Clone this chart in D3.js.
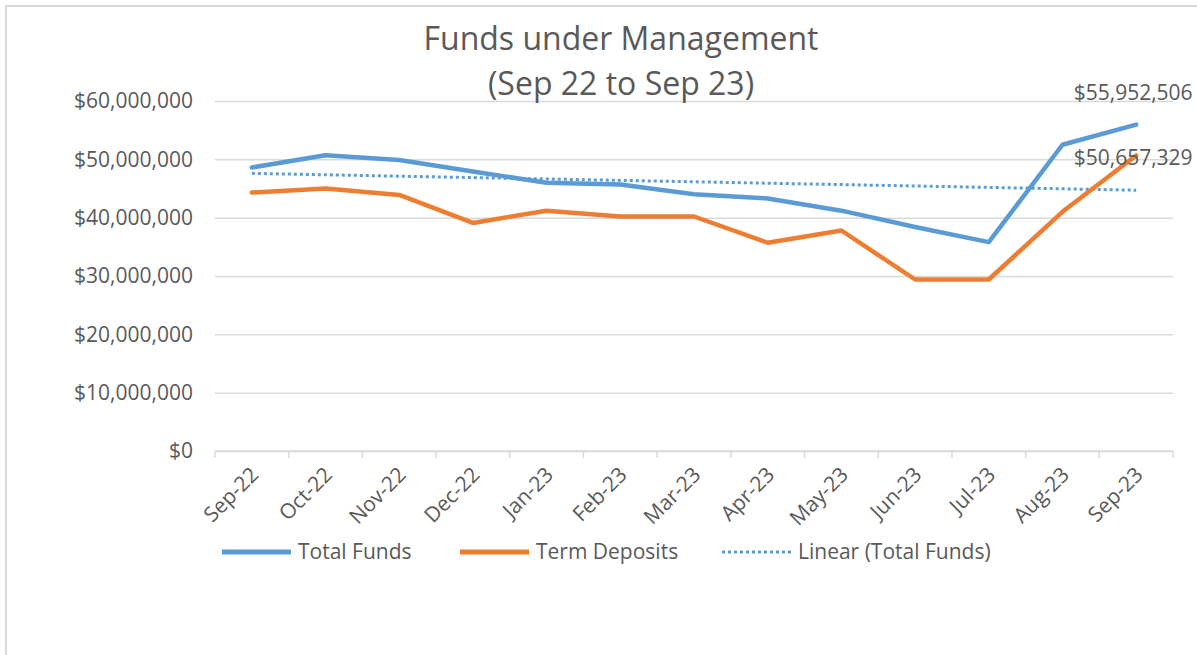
<!DOCTYPE html>
<html>
<head>
<meta charset="utf-8">
<script src="https://cdn.jsdelivr.net/npm/d3@7"></script>
<style>
  body { margin: 0; background: #fff; }
  text { font-family: "Open Sans", sans-serif; fill: #595959; }
</style>
</head>
<body>
<div id="chart"></div>
<script>
// values
const months = ["Sep-22", "Oct-22", "Nov-22", "Dec-22", "Jan-23", "Feb-23", "Mar-23",
                "Apr-23", "May-23", "Jun-23", "Jul-23", "Aug-23", "Sep-23"];
const totalFunds = [48600000, 50700000, 49900000, 47900000, 46000000, 45700000, 44000000,
                    43300000, 41200000, 38400000, 35800000, 52500000, 55952506];
const termDeposits = [44300000, 45000000, 43900000, 39100000, 41200000, 40200000, 40200000,
                      35700000, 37800000, 29400000, 29400000, 41000000, 50657329];
const yTicks = [0, 10000000, 20000000, 30000000, 40000000, 50000000, 60000000];
const titleLines = ["Funds under Management", "(Sep 22 to Sep 23)"];
const legendNames = ["Total Funds", "Term Deposits", "Linear (Total Funds)"];

const blue = "#5b9bd5", orange = "#ed7d31";
const W = 1197, H = 655;
const plot = {left: 215, right: 1173, top: 101, bottom: 451};

const svg = d3.select("#chart").append("svg")
    .attr("width", W).attr("height", H);

svg.append("rect").attr("width", W).attr("height", H).attr("fill", "#fff");

// chart area border (only top and left show in the crop)
svg.append("path")
    .attr("d", `M6,${H} L6,6 L${W},6`)
    .attr("fill", "none").attr("stroke", "#d9d9d9").attr("stroke-width", 2);

const x = d3.scaleBand().domain(months).range([plot.left, plot.right]).padding(0);
const cx = d => x(d) + x.bandwidth() / 2;
const y = d3.scaleLinear().domain([0, 60000000]).range([plot.bottom, plot.top]);
const fmt = d3.format("$,");

// gridlines + y labels
const yAxis = svg.append("g")
    .attr("transform", `translate(${plot.left},0)`)
    .call(d3.axisLeft(y).tickValues(yTicks).tickFormat(fmt)
        .tickSize(-(plot.right - plot.left)).tickPadding(22));
yAxis.select(".domain").remove();
yAxis.selectAll(".tick line").attr("stroke", "#d9d9d9").attr("stroke-width", 1.5);
yAxis.selectAll(".tick text")
    .attr("font-size", 21).attr("font-family", "Open Sans").attr("fill", "#595959");

// x axis with tick marks at category boundaries
const xa = svg.append("g").attr("transform", `translate(0,${plot.bottom})`);
xa.append("line").attr("x1", plot.left).attr("x2", plot.right)
    .attr("stroke", "#d9d9d9").attr("stroke-width", 1.5);
const bounds = months.map(m => x(m)).concat([plot.right]);
xa.selectAll("line.tk").data(bounds).join("line").attr("class", "tk")
    .attr("x1", d => d).attr("x2", d => d).attr("y1", 0).attr("y2", 7)
    .attr("stroke", "#d9d9d9").attr("stroke-width", 1.5);
xa.selectAll("text").data(months).join("text")
    .attr("transform", d => `translate(${cx(d) + 8},25) rotate(-45)`)
    .attr("text-anchor", "end")
    .attr("font-size", 21)
    .text(d => d);

// linear trendline of total funds (least squares over the 13 points)
const n = totalFunds.length;
const mx = d3.mean(d3.range(n)), my = d3.mean(totalFunds);
const slope = d3.sum(d3.range(n), i => (i - mx) * (totalFunds[i] - my)) /
              d3.sum(d3.range(n), i => (i - mx) * (i - mx));
const trend = months.map((m, i) => my + slope * (i - mx));

const line = d3.line().x((d, i) => cx(months[i])).y(d => y(d));

svg.append("path").datum(trend)
    .attr("d", line).attr("fill", "none")
    .attr("stroke", blue).attr("stroke-width", 3)
    .attr("stroke-dasharray", "3,3");

svg.append("path").datum(termDeposits)
    .attr("d", line).attr("fill", "none")
    .attr("stroke", orange).attr("stroke-width", 4.5)
    .attr("stroke-linejoin", "round").attr("stroke-linecap", "round");

svg.append("path").datum(totalFunds)
    .attr("d", line).attr("fill", "none")
    .attr("stroke", blue).attr("stroke-width", 4.5)
    .attr("stroke-linejoin", "round").attr("stroke-linecap", "round");

// data labels on the last points
const last = months[n - 1];
svg.append("text")
    .attr("x", cx(last) - 3).attr("y", y(totalFunds[n - 1]) - 25)
    .attr("text-anchor", "middle").attr("font-size", 21)
    .text(fmt(totalFunds[n - 1]));
svg.append("text")
    .attr("x", cx(last) - 3).attr("y", y(termDeposits[n - 1]) + 10)
    .attr("text-anchor", "middle").attr("font-size", 21)
    .text(fmt(termDeposits[n - 1]));

// title
svg.selectAll("text.title").data(titleLines).join("text")
    .attr("class", "title")
    .attr("x", 621).attr("y", (d, i) => 50 + i * 45)
    .attr("text-anchor", "middle").attr("font-size", 32)
    .text(d => d);

// legend
const legendX = [222, 460, 722];
const lg = svg.append("g").attr("transform", "translate(0,552)");
const items = lg.selectAll("g").data(legendNames).join("g")
    .attr("transform", (d, i) => `translate(${legendX[i]},0)`);
items.append("line").attr("x1", 0).attr("x2", 69)
    .attr("stroke", (d, i) => i === 1 ? orange : blue)
    .attr("stroke-width", (d, i) => i === 2 ? 3 : 5)
    .attr("stroke-dasharray", (d, i) => i === 2 ? "3,3" : null);
items.append("text").attr("x", 76).attr("dy", "0.35em")
    .attr("font-size", 21).text(d => d);
</script>
</body>
</html>
